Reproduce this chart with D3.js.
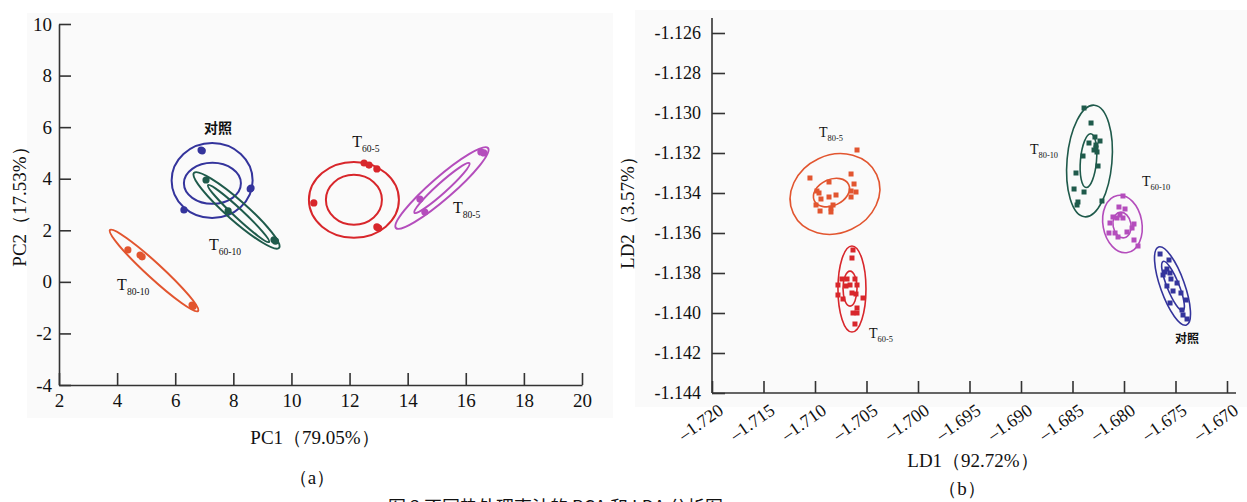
<!DOCTYPE html>
<html>
<head>
<meta charset="utf-8">
<script src="https://cdn.jsdelivr.net/npm/d3@7"></script>
<style>
  body { margin: 0; background: #ffffff; }
</style>
</head>
<body>
<script>
// ---- data: (a) PCA ----
const pcaGroups = ["对照", "T60-10", "T80-10", "T60-5", "T80-5"];
const pcaColors = ["#34349c", "#1f5a4b", "#e2552f", "#d8262b", "#b44dbc"];
const pcaPoints = [
  [[6.89, 5.11], [6.93, 5.08], [8.61, 3.64], [8.58, 3.60], [6.30, 2.79]],
  [[7.06, 3.95], [7.82, 2.75], [9.40, 1.63], [9.45, 1.58]],
  [[4.37, 1.24], [4.79, 1.04], [4.86, 0.97], [6.58, -0.90], [6.62, -0.95]],
  [[12.50, 4.61], [12.67, 4.53], [12.94, 4.38], [10.77, 3.06], [12.94, 2.13], [13.0, 2.08]],
  [[16.52, 5.04], [16.62, 5.00], [14.42, 3.21], [14.59, 2.71]]
];
// [group, cx, cy, rx, ry, rotation deg]
const pcaEllipses = [
  [0, 7.27, 3.93, 1.394, 1.454, 0],
  [0, 7.28, 3.82, 0.981, 0.795, 0],
  [1, 8.11, 2.77, 1.951, 0.388, 41.4],
  [1, 8.18, 2.65, 1.435, 0.174, 43],
  [2, 5.27, 0.44, 2.058, 0.291, 42.6],
  [3, 12.15, 3.18, 1.549, 1.473, 0],
  [3, 12.15, 3.18, 0.964, 0.969, 0],
  [4, 15.18, 3.64, 2.099, 0.427, -41],
  [4, 15.18, 3.64, 1.273, 0.194, -42]
];
// [group, x, y] text start / baseline
const pcaLabels = [
  [0, 6.99, 5.77],
  [1, 7.16, 1.24],
  [2, 4.00, -0.31],
  [3, 12.09, 5.23],
  [4, 15.56, 2.67]
];
const pcaXTicks = [2, 4, 6, 8, 10, 12, 14, 16, 18, 20];
const pcaYTicks = [-4, -2, 0, 2, 4, 6, 8, 10];

// ---- data: (b) LDA ----
const ldaGroups = ["T80-5", "T60-5", "T80-10", "T60-10", "对照"];
const ldaColors = ["#e2552f", "#d8262b", "#1f5a4b", "#b44dbc", "#34349c"];
const ldaPoints = [
  [[-1.70592, -1.13185], [-1.71049, -1.13325], [-1.70650, -1.13305], [-1.70621, -1.13355],
   [-1.70602, -1.13395], [-1.70650, -1.13390], [-1.70650, -1.13420], [-1.70864, -1.13345],
   [-1.70796, -1.13410], [-1.70864, -1.13420], [-1.70981, -1.13390], [-1.70961, -1.13400],
   [-1.70942, -1.13430], [-1.70990, -1.13460], [-1.70951, -1.13490], [-1.70845, -1.13495],
   [-1.70845, -1.13475], [-1.70825, -1.13460]],
  [[-1.70631, -1.13685], [-1.70641, -1.13725], [-1.70738, -1.13830], [-1.70689, -1.13830],
   [-1.70612, -1.13830], [-1.70660, -1.13860], [-1.70592, -1.13860], [-1.70777, -1.13860],
   [-1.70699, -1.13865], [-1.70641, -1.13900], [-1.70602, -1.13905], [-1.70777, -1.13910],
   [-1.70728, -1.13930], [-1.70534, -1.13925], [-1.70592, -1.13975], [-1.70631, -1.14000],
   [-1.70592, -1.14000], [-1.70612, -1.14055]],
  [[-1.68388, -1.12975], [-1.68320, -1.13050], [-1.68282, -1.13120], [-1.68233, -1.13140],
   [-1.68340, -1.13150], [-1.68272, -1.13160], [-1.68272, -1.13175], [-1.68291, -1.13185],
   [-1.68262, -1.13195], [-1.68398, -1.13215], [-1.68252, -1.13265], [-1.68466, -1.13300],
   [-1.68485, -1.13380], [-1.68388, -1.13395], [-1.68447, -1.13445], [-1.68456, -1.13460],
   [-1.68214, -1.13440]],
  [[-1.68010, -1.13415], [-1.68049, -1.13470], [-1.67990, -1.13480], [-1.68039, -1.13510],
   [-1.68107, -1.13520], [-1.68068, -1.13525], [-1.68010, -1.13525], [-1.68136, -1.13550],
   [-1.67903, -1.13555], [-1.67922, -1.13575], [-1.68087, -1.13600], [-1.67971, -1.13595],
   [-1.68146, -1.13600], [-1.68058, -1.13620], [-1.67903, -1.13635], [-1.67864, -1.13665]],
  [[-1.67650, -1.13705], [-1.67563, -1.13735], [-1.67583, -1.13780], [-1.67602, -1.13795],
   [-1.67553, -1.13800], [-1.67621, -1.13810], [-1.67544, -1.13830], [-1.67485, -1.13850],
   [-1.67583, -1.13865], [-1.67524, -1.13890], [-1.67447, -1.13900], [-1.67398, -1.13935],
   [-1.67553, -1.13950], [-1.67437, -1.13985], [-1.67427, -1.14010], [-1.67388, -1.14030]]
];
const ldaEllipses = [
  [0, -1.70806, -1.13405, 0.004466, 0.00195, -25],
  [0, -1.70840, -1.13398, 0.001845, 0.00065, -25],
  [1, -1.70641, -1.13880, 0.00136, 0.00215, 0],
  [1, -1.70660, -1.13878, 0.00068, 0.000875, 0],
  [2, -1.68335, -1.13240, 0.00218, 0.0028, 5],
  [2, -1.68345, -1.13238, 0.00078, 0.00135, 5],
  [3, -1.68015, -1.13555, 0.00189, 0.00145, -10],
  [3, -1.68019, -1.13560, 0.00087, 0.00065, -10],
  [4, -1.67529, -1.13865, 0.00117, 0.00207, -19.7],
  [4, -1.67524, -1.13865, 0.00058, 0.001325, -22]
];
const ldaLabels = [
  [0, -1.70961, -1.13120],
  [1, -1.70476, -1.14125],
  [2, -1.68913, -1.13205],
  [3, -1.67825, -1.13365],
  [4, -1.67505, -1.14150]
];
const ldaXTicks = [-1.720, -1.715, -1.710, -1.705, -1.700, -1.695, -1.690, -1.685, -1.680, -1.675, -1.670];
const ldaYTicks = [-1.144, -1.142, -1.140, -1.138, -1.136, -1.134, -1.132, -1.130, -1.128, -1.126];

const caption = "图 3  不同热处理枣汁的 PCA 和 LDA 分析图";

// ---- drawing ----
const width = 1247, height = 502;
const serif = "'Liberation Serif', 'Times New Roman', serif";
const axisColor = "#333333";

const svg = d3.select("body").append("svg")
  .attr("width", width)
  .attr("height", height)
  .style("font-family", serif);

// panel backgrounds
svg.append("rect").attr("x", 27).attr("y", 13).attr("width", 586).attr("height", 405).attr("fill", "#fafafa");
svg.append("rect").attr("x", 635).attr("y", 10).attr("width", 612).attr("height", 397).attr("fill", "#fafafa");

function addLabel(g, name, px, py, size) {
  const t = g.append("text").attr("x", px).attr("y", py).attr("fill", "#111");
  if (name[0] === "T") {
    t.style("font-family", serif).style("font-size", size + "px");
    t.append("tspan").text("T");
    t.append("tspan").attr("dy", size * 0.3).style("font-size", (size * 0.6) + "px").text(name.slice(1));
  } else {
    t.style("font-family", "'Noto Sans CJK SC', sans-serif")
      .style("font-weight", "bold")
      .style("font-size", (size - 2) + "px")
      .text(name);
  }
}

function drawEllipses(g, list, colors, x, y, sw) {
  g.append("g").selectAll("ellipse")
    .data(list)
    .join("ellipse")
    .attr("cx", d => x(d[1]))
    .attr("cy", d => y(d[2]))
    .attr("rx", d => Math.abs(x(d[1] + d[3]) - x(d[1])))
    .attr("ry", d => Math.abs(y(d[2] + d[4]) - y(d[2])))
    .attr("transform", d => `rotate(${d[5]},${x(d[1])},${y(d[2])})`)
    .attr("fill", "none")
    .attr("stroke", d => colors[d[0]])
    .attr("stroke-width", sw);
}

// ===== (a) PCA =====
const xA = d3.scaleLinear().domain([2, 20]).range([59, 582]);
const yA = d3.scaleLinear().domain([-4, 10]).range([385, 24]);
const gA = svg.append("g");

const axA_x = gA.append("g")
  .attr("transform", `translate(0,${yA(-4)})`)
  .call(d3.axisBottom(xA).tickValues(pcaXTicks).tickSize(-12).tickSizeOuter(0).tickPadding(9).tickFormat(d => String(d)));
const axA_y = gA.append("g")
  .attr("transform", `translate(${xA(2)},0)`)
  .call(d3.axisLeft(yA).tickValues(pcaYTicks).tickSize(-12).tickSizeOuter(0).tickPadding(7).tickFormat(d => String(d)));
[axA_x, axA_y].forEach(a => {
  a.selectAll("path, line").attr("stroke", axisColor).attr("stroke-width", 1.6);
  a.selectAll("text").style("font-family", serif).style("font-size", "19px").attr("fill", "#111");
});

drawEllipses(gA, pcaEllipses, pcaColors, xA, yA, 2);

pcaPoints.forEach((pts, i) => {
  gA.append("g").selectAll("circle")
    .data(pts)
    .join("circle")
    .attr("cx", d => xA(d[0]))
    .attr("cy", d => yA(d[1]))
    .attr("r", 3.6)
    .attr("fill", pcaColors[i]);
});

pcaLabels.forEach(d => addLabel(gA, pcaGroups[d[0]], xA(d[1]), yA(d[2]), 16));

gA.append("text")
  .attr("x", 315).attr("y", 444)
  .attr("text-anchor", "middle")
  .style("font-size", "19px").attr("fill", "#111")
  .text("PC1（79.05%）");
gA.append("text")
  .attr("transform", "translate(26,202) rotate(-90)")
  .attr("text-anchor", "middle")
  .style("font-size", "19px").attr("fill", "#111")
  .text("PC2（17.53%）");
gA.append("text")
  .attr("x", 312).attr("y", 484)
  .attr("text-anchor", "middle")
  .style("font-size", "19px").attr("fill", "#111")
  .text("（a）");

// ===== (b) LDA =====
const xB = d3.scaleLinear().domain([-1.72, -1.67]).range([712, 1227]);
const yB = d3.scaleLinear().domain([-1.144, -1.126]).range([393, 33]);
const gB = svg.append("g");

const axB_x = gB.append("g")
  .attr("transform", `translate(0,${yB(-1.144)})`)
  .call(d3.axisBottom(xB).tickValues(ldaXTicks).tickSize(-12).tickSizeOuter(0).tickFormat(d => "–" + Math.abs(d).toFixed(3)));
axB_x.select(".domain").remove();
axB_x.selectAll("text")
  .attr("x", 0).attr("y", 0).attr("dy", 0)
  .attr("text-anchor", "end")
  .attr("transform", "translate(12,20) rotate(-35)");

const axB_y = gB.append("g")
  .attr("transform", `translate(${xB(-1.72)},0)`)
  .call(d3.axisLeft(yB).tickValues(ldaYTicks).tickSize(-13).tickSizeOuter(0).tickPadding(11).tickFormat(d => d.toFixed(3)));
axB_y.select(".domain").remove();

[axB_x, axB_y].forEach(a => {
  a.selectAll("line").attr("stroke", axisColor).attr("stroke-width", 1.6);
  a.selectAll("text").style("font-family", serif).style("font-size", "18px").attr("fill", "#111");
});

// axis lines (extend past the last ticks as in the original)
gB.append("line")
  .attr("x1", xB(-1.72)).attr("x2", 1236)
  .attr("y1", yB(-1.144)).attr("y2", yB(-1.144))
  .attr("stroke", axisColor).attr("stroke-width", 1.6);
gB.append("line")
  .attr("x1", xB(-1.72)).attr("x2", xB(-1.72))
  .attr("y1", 18).attr("y2", yB(-1.144))
  .attr("stroke", axisColor).attr("stroke-width", 1.6);

drawEllipses(gB, ldaEllipses, ldaColors, xB, yB, 1.6);

ldaPoints.forEach((pts, i) => {
  gB.append("g").selectAll("rect")
    .data(pts)
    .join("rect")
    .attr("x", d => xB(d[0]) - 2.5)
    .attr("y", d => yB(d[1]) - 2.5)
    .attr("width", 5)
    .attr("height", 5)
    .attr("fill", ldaColors[i]);
});

ldaLabels.forEach(d => addLabel(gB, ldaGroups[d[0]], xB(d[1]), yB(d[2]), 14));

gB.append("text")
  .attr("x", 973).attr("y", 467)
  .attr("text-anchor", "middle")
  .style("font-size", "19px").attr("fill", "#111")
  .text("LD1（92.72%）");
gB.append("text")
  .attr("transform", "translate(634,208) rotate(-90)")
  .attr("text-anchor", "middle")
  .style("font-size", "19px").attr("fill", "#111")
  .text("LD2（3.57%）");
gB.append("text")
  .attr("x", 962).attr("y", 495)
  .attr("text-anchor", "middle")
  .style("font-size", "19px").attr("fill", "#111")
  .text("（b）");

// figure caption (cut off at the bottom edge in the original)
svg.append("text")
  .attr("x", 388).attr("y", 514)
  .style("font-family", "'Noto Sans CJK SC', sans-serif")
  .style("font-size", "18px")
  .attr("fill", "#111")
  .text(caption);
</script>
</body>
</html>
